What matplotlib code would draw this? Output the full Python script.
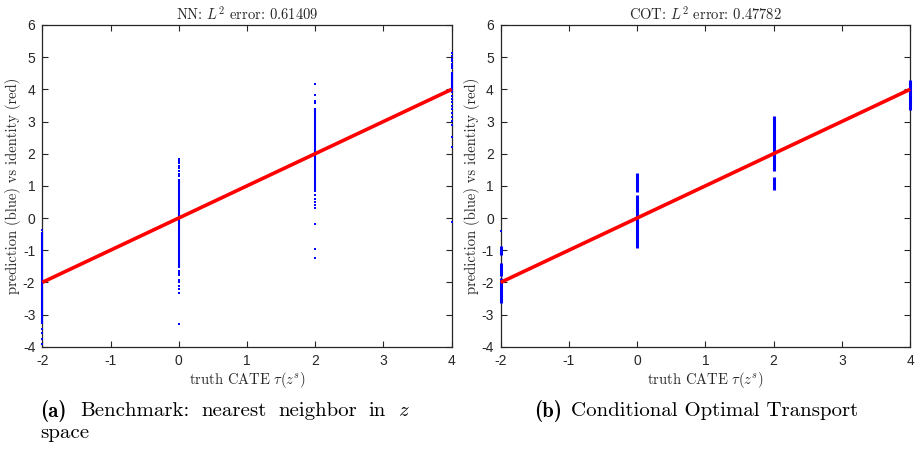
import matplotlib
matplotlib.use("Agg")
import matplotlib.pyplot as plt

plt.rcParams["mathtext.fontset"] = "cm"
plt.rcParams["axes.unicode_minus"] = False

# truth CATE levels
levels = [-2, 0, 2, 4]

# NN predictions: dense vertical ranges (lo, hi) per level, plus isolated points
nn_dense = [(-3.30, -0.45), (-1.55, 1.20), (0.82, 3.42), (3.88, 4.55)]
nn_points_x = [-2, -2, -2, -2, -2,
               0, 0, 0, 0, 0, 0, 0, 0, 0, 0, 0, 0, 0, 0, 0, 0, 0,
               2, 2, 2, 2, 2, 2, 2, 2, 2, 2, 2, 2,
               4, 4, 4, 4, 4, 4, 4, 4, 4, 4, 4, 4, 4, 4, 4, 4, 4, 4, 4]
nn_points_y = [-0.38, -3.45, -3.58, -3.75, -3.92,
               1.83, 1.76, 1.70, 1.62, 1.55, 1.45, 1.38, 1.30,
               -1.65, -1.72, -1.78, -1.92, -2.00, -2.10, -2.22, -2.33, -3.29,
               4.17, 3.83, 3.65, 3.57, 0.72, 0.60, 0.50, 0.40, 0.30, -0.20, -0.97, -1.25,
               5.14, 5.05, 4.95, 4.88, 4.80, 4.72, 4.65, 3.80, 3.70, 3.60, 3.48,
               3.38, 3.25, 3.15, 3.02, 2.90, 2.53, 2.22, -0.11]

# COT predictions: dense vertical ranges per level, plus isolated points
cot_dense_x = [-2, -2, -2, 0, 0, 2, 2, 4]
cot_dense = [(-1.15, -0.88), (-1.80, -1.40), (-2.65, -1.85),
             (0.82, 1.40), (-0.94, 0.72),
             (1.45, 3.18), (0.86, 1.26),
             (3.35, 4.30)]
cot_points_x = [-2]
cot_points_y = [-0.40]

# identity reference
ident_x = [-2, 4]

panels = [
    dict(title=r"NN: $L^2$ error: 0.61409", dense_x=levels, dense=nn_dense,
         px=nn_points_x, py=nn_points_y, lw=1.5, left=42.3),
    dict(title=r"COT: $L^2$ error: 0.47782", dense_x=cot_dense_x, dense=cot_dense,
         px=cot_points_x, py=cot_points_y, lw=2.2, left=500.7),
]

W, H = 917, 450
fig = plt.figure(figsize=(W / 100, H / 100), dpi=100)

axis_col = "#262626"
serif = "cmr10"
lab_size = 10.5

for p in panels:
    ax = fig.add_axes([p["left"] / W, 1 - 346.7 / H, 409.4 / W, 321.7 / H])
    for xv, (lo, hi) in zip(p["dense_x"], p["dense"]):
        ax.vlines(xv, lo, hi, color="blue", lw=p["lw"], zorder=3, clip_on=False)
    ax.plot(p["px"], p["py"], ls="none", marker="s", ms=1.6, mew=0,
            color="blue", zorder=3, clip_on=False)
    ax.plot(ident_x, ident_x, color="red", lw=2.6, zorder=4,
            solid_capstyle="butt", clip_on=False)
    ax.set_xlim(-2, 4)
    ax.set_ylim(-4, 6)
    ax.set_xticks(range(-2, 5))
    ax.set_yticks(range(-4, 7))
    ax.tick_params(direction="in", top=True, right=True, length=4,
                   width=0.8, color=axis_col, labelcolor=axis_col,
                   labelsize=10, pad=5)
    for lab in ax.get_xticklabels() + ax.get_yticklabels():
        lab.set_fontfamily("Liberation Sans")
    for s in ax.spines.values():
        s.set_color(axis_col)
        s.set_linewidth(0.9)
    ax.set_title(p["title"], fontsize=lab_size, family=serif, color=axis_col, pad=4)
    ax.set_xlabel(r"truth CATE $\tau(z^s)$", fontsize=lab_size, family=serif,
                  color=axis_col, labelpad=2)
    ax.set_ylabel("prediction (blue) vs identity (red)", fontsize=lab_size,
                  family=serif, color=axis_col, labelpad=1)

# sub-figure captions
cap_size = 15
fig.text(40 / W, 1 - 411 / H, "(a)", fontsize=cap_size, family="cmb10",
         va="center", ha="left")
for word, x in [("Benchmark:", 80), ("nearest", 201), ("neighbor", 278),
                ("in", 368), (r"$z$", 398)]:
    fig.text(x / W, 1 - 411 / H, word, fontsize=cap_size, family=serif,
             va="center", ha="left")
fig.text(40 / W, 1 - 433 / H, "space", fontsize=cap_size, family=serif,
         va="center", ha="left")
fig.text(534 / W, 1 - 411 / H, "(b)", fontsize=cap_size, family="cmb10",
         va="center", ha="left")
fig.text(571 / W, 1 - 411 / H, "Conditional Optimal Transport",
         fontsize=cap_size, family=serif, va="center", ha="left")

fig.savefig("out.png", dpi=100, facecolor="white")
